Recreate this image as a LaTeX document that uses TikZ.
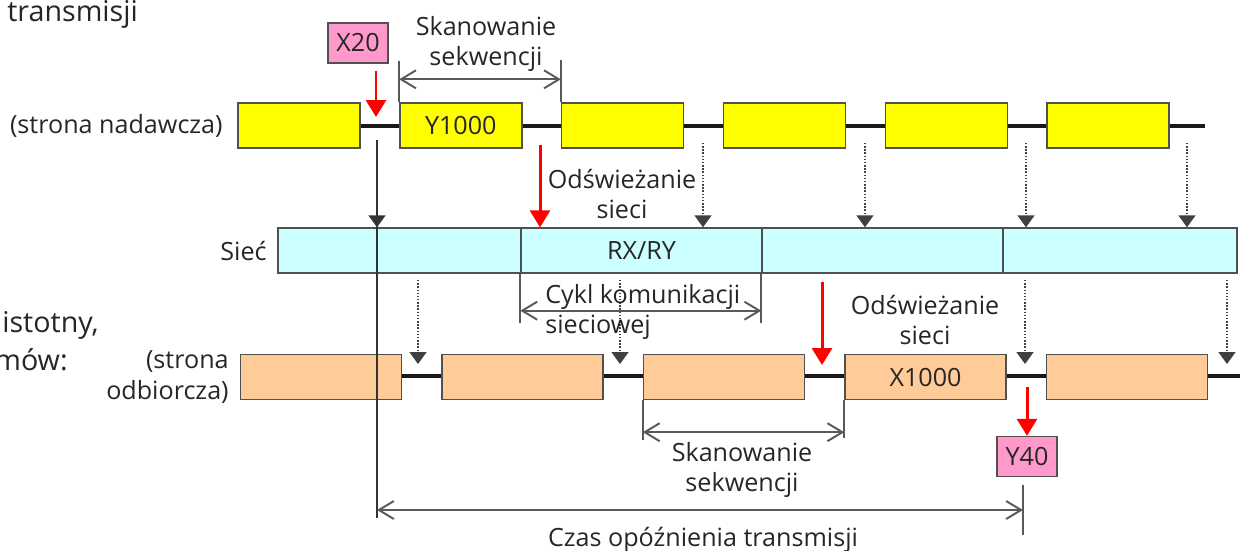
\documentclass[tikz,border=0pt]{standalone}
\usepackage{fontspec}
\setmainfont{Open Sans}
\usepackage{tikz}
\usetikzlibrary{arrows.meta,calc,positioning}
\definecolor{txcolor}{RGB}{255,255,0}
\definecolor{rxcolor}{RGB}{255,204,153}
\definecolor{netcolor}{RGB}{204,255,255}
\definecolor{tagcolor}{RGB}{255,153,204}
\definecolor{edgecolor}{RGB}{80,80,80}
\definecolor{txtcolor}{RGB}{38,38,38}

\begin{document}
\begin{tikzpicture}[x=0.2mm,y=-0.2mm,font=\fontsize{14.3}{17.5}\selectfont,text=txtcolor,
  every node/.style={inner sep=0pt},
  slot/.style={draw=edgecolor,line width=0.8pt,inner sep=0pt,minimum height=0.9cm},
  txslot/.style={slot,fill=txcolor,minimum width=2.44cm},
  rxslot/.style={slot,fill=rxcolor,minimum width=3.22cm},
  netslot/.style={slot,fill=netcolor},
  tag/.style={slot,fill=tagcolor,minimum width=1.2cm,minimum height=0.8cm},
  sidetext/.style={font=\fontsize{16.3}{19}\selectfont},
  bus/.style={line width=2.3pt,black!90},
  trig/.style={red,line width=1.7pt,-{Triangle[length=3.4mm,width=4mm]}},
  upd/.style={black!75,line width=0.8pt,densely dotted,-{Triangle[length=2.4mm,width=3.4mm]}},
  dimline/.style={black!65,line width=1.1pt,{Straight Barb[length=3mm,width=3.6mm]}-{Straight Barb[length=3mm,width=3.6mm]}},
  tickline/.style={black!65,line width=1.1pt}]
  \clip (0,0) rectangle (1240,550);

  % sending station
  \draw[bus] (238,126) -- (1205,126);
  \foreach \i/\lbl in {1/{},2/Y1000,3/{},4/{},5/{},6/{}}
    \node[txslot] (tx\i) at ({299+161.8*(\i-1)},125.5) {\lbl};
  \node[tag] (x20) at (358,43) {X20};
  \node[anchor=east] (sender) at (223,126) {(strona nadawcza)};
  \node[sidetext,anchor=base west] (lefttop) at (7,21) {transmisji};

  % network
  \foreach \i/\a/\b/\lbl in {1/278/521/{},2/521/762/{RX/RY},3/762/1003/{},4/1003/1237/{}}
    \node[netslot,minimum width={(\b-\a)*0.2mm}] (net\i) at ({(\a+\b)/2},250.5) {\lbl};
  \node[anchor=east] (netlbl) at (267,251) {Sieć};

  % receiving station
  \draw[bus] (402,376) -- (1240,376);
  \foreach \i/\lbl in {1/{},2/{},3/{},4/X1000,5/{}}
    \node[rxslot] (rx\i) at ({321+201.5*(\i-1)},377) {\lbl};
  \node[tag] (y40) at (1027,456.5) {Y40};
  \node[anchor=east,align=right] (receiver) at (229,377) {(strona\\odbiorcza)};
  \node[sidetext,anchor=base east] (leftmid) at (99,332) {istotny,};
  \node[sidetext,anchor=base east] (leftlow) at (68,370) {mów:};

  % link refresh, sender -> network
  \draw[black!80,line width=0.8pt] (377,140) -- (377,518);
  \draw[black!80,line width=0.8pt,-{Triangle[length=2.4mm,width=3.4mm]}] (377,140) -- (377,0 |- net1.north);
  \foreach \x in {703,865,1026,1187}
    \draw[upd] (\x,143) -- (\x,0 |- net1.north);
  % link refresh, network -> receiver
  \foreach \x in {418,620,1025,1227}
    \draw[upd] (\x,280) -- (\x,364);

  % signal path
  \draw[trig] ([yshift=-4pt]x20.south -| 376,0) -- (376,117);
  \draw[trig] (540,145) -- (540,0 |- net2.north);
  \draw[trig] (822,282) -- (822,365);
  \draw[trig] (1027,387) -- (y40.north);
  \node[align=center] (updtx) at (622,194) {Odświeżanie\\sieci};
  \node[align=center] (updrx) at (925,320) {Odświeżanie\\sieci};

  % sequence scan (sender)
  \draw[tickline] (tx2.north west) -- ++(0,-41);
  \draw[tickline] (tx3.north west) -- ++(0,-42);
  \draw[dimline] ($(tx2.north west)+(0,-23)$) -- ($(tx3.north west)+(0,-23)$);
  \node[align=center] (scantx) at (486,44) {Skanowanie\\sekwencji};

  % link scan
  \draw[tickline] (net2.south west) -- ++(0,49);
  \draw[tickline] (net3.south west) -- ++(0,49);
  \draw[dimline] ($(net2.south west)+(0,37)$) -- ($(net3.south west)+(0,37)$);
  \node[align=left,anchor=west] (cycle) at (545,312) {Cykl komunikacji\\sieciowej};

  % sequence scan (receiver)
  \draw[tickline] (rx3.south west) -- ++(0,40);
  \draw[tickline] (rx4.south west) -- ++(0,38);
  \draw[dimline] ($(rx3.south west)+(0,32)$) -- ($(rx4.south west)+(0,32)$);
  \node[align=center] (scanrx) at (742,470) {Skanowanie\\sekwencji};

  % transmission delay
  \draw[tickline] (1023,485) -- (1023,535);
  \draw[dimline] (377,510) -- (1023,510);
  \node[anchor=base] (delay) at (703,546) {Czas opóźnienia transmisji};
\end{tikzpicture}
\end{document}
